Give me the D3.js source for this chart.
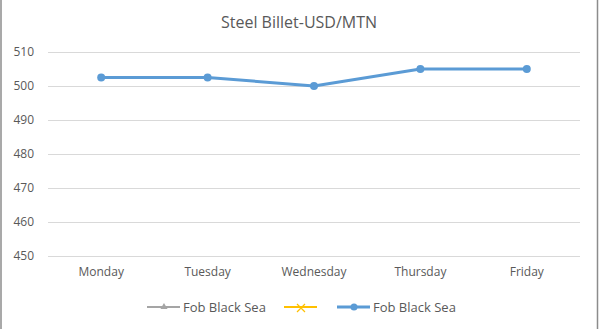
<!DOCTYPE html>
<html>
<head>
<meta charset="utf-8">
<script src="https://cdn.jsdelivr.net/npm/d3@7/dist/d3.min.js"></script>
<style>
  html, body { margin: 0; padding: 0; background: #fff; }
  svg { display: block; }
  text { font-family: "Open Sans", "Noto Sans", sans-serif; fill: #595959; }
</style>
</head>
<body>
<svg id="chart" width="600" height="329"></svg>
<script>
// Weekly steel billet prices, Fob Black Sea
const days = ["Monday", "Tuesday", "Wednesday", "Thursday", "Friday"];
const prices = [502.5, 502.5, 500, 505, 505];
const yTicks = [450, 460, 470, 480, 490, 500, 510];
const legendItems = [
  { label: "Fob Black Sea", color: "#a5a5a5", marker: "triangle" },
  { label: "", color: "#ffc000", marker: "cross" },
  { label: "Fob Black Sea", color: "#5b9bd5", marker: "circle" }
];

const svg = d3.select("#chart");
const W = 600, H = 329;
const plot = { left: 48, right: 580, top: 52, bottom: 256 };

// chart frame (left and right edges)
svg.append("line").attr("x1", 1).attr("x2", 1).attr("y1", 0).attr("y2", H)
  .attr("stroke", "#8c8c8c").attr("stroke-width", 1.5);
svg.append("line").attr("x1", 597.5).attr("x2", 597.5).attr("y1", 0).attr("y2", H)
  .attr("stroke", "#8c8c8c").attr("stroke-width", 1.5);

const x = d3.scaleBand().domain(days).range([plot.left, plot.right]);
const y = d3.scaleLinear().domain([450, 510]).range([plot.bottom, plot.top]);

// title
svg.append("text").attr("x", 299).attr("y", 28).attr("text-anchor", "middle")
  .style("font-size", "16px").text("Steel Billet-USD/MTN");

// gridlines + y labels
const yAxis = d3.axisLeft(y).tickValues(yTicks).tickSize(-(plot.right - plot.left)).tickPadding(14);
const gy = svg.append("g").attr("transform", `translate(${plot.left},0)`).call(yAxis);
gy.select(".domain").remove();
gy.selectAll(".tick line").attr("stroke", "#d9d9d9").attr("stroke-width", 1);
gy.selectAll(".tick text").style("font-size", "12px").style("font-family", "'Open Sans', sans-serif")
  .attr("fill", "#595959");

// category labels
const xAxis = d3.axisBottom(x).tickSize(0).tickPadding(11);
const gx = svg.append("g").attr("transform", `translate(0,${plot.bottom})`).call(xAxis);
gx.select(".domain").remove();
gx.selectAll(".tick text").style("font-size", "12px").style("font-family", "'Open Sans', sans-serif")
  .attr("fill", "#595959");

// price line
const cx = d => x(d) + x.bandwidth() / 2;
const line = d3.line().x((d, i) => cx(days[i])).y(d => y(d));
svg.append("path").datum(prices).attr("d", line)
  .attr("fill", "none").attr("stroke", "#5b9bd5").attr("stroke-width", 3)
  .attr("stroke-linejoin", "round");
svg.selectAll("circle.pt").data(prices).enter().append("circle")
  .attr("class", "pt").attr("cx", (d, i) => cx(days[i])).attr("cy", d => y(d))
  .attr("r", 4).attr("fill", "#5b9bd5");

// legend
const legendX = [147, 284, 337];
const lg = svg.append("g").attr("transform", "translate(0,307)");
legendItems.forEach((it, i) => {
  const g = lg.append("g").attr("transform", `translate(${legendX[i]},0)`);
  g.append("line").attr("x1", 0).attr("x2", 33).attr("y1", 0).attr("y2", 0)
    .attr("stroke", it.color).attr("stroke-width", it.marker === "circle" ? 3 : 2);
  if (it.marker === "triangle") {
    g.append("path").attr("d", d3.symbol(d3.symbolTriangle, 22)()).attr("transform", "translate(17,0)")
      .attr("fill", it.color);
  } else if (it.marker === "cross") {
    g.append("path").attr("d", "M-4,-4L4,4M-4,4L4,-4").attr("transform", "translate(17,1)")
      .attr("stroke", it.color).attr("stroke-width", 1.2).attr("fill", "none");
  } else {
    g.append("circle").attr("cx", 17).attr("cy", 0).attr("r", 3.5).attr("fill", it.color);
  }
  if (it.label) {
    g.append("text").attr("x", 36).attr("y", 4.5).style("font-size", "13px").text(it.label);
  }
});
</script>
</body>
</html>
